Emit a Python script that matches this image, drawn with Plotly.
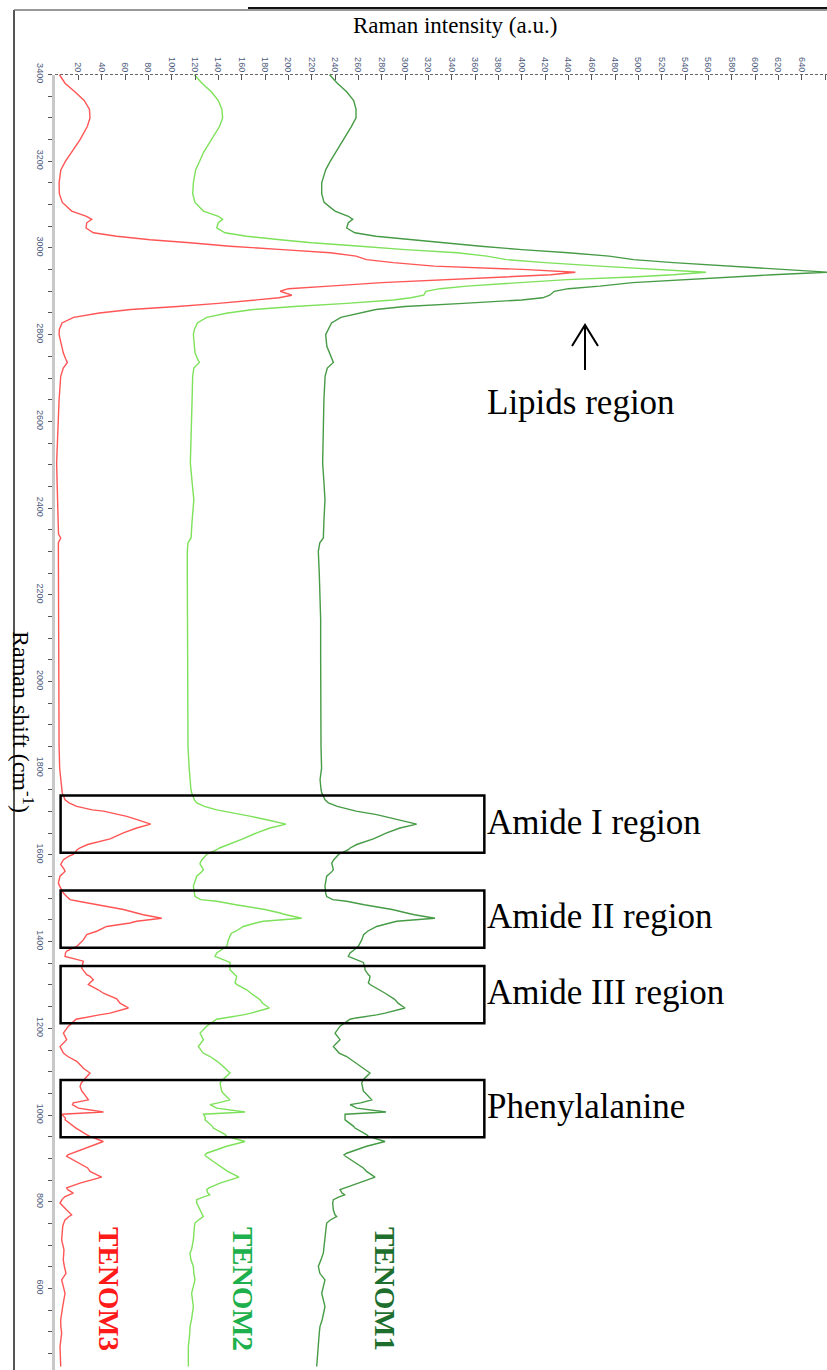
import plotly.graph_objects as go

W, H = 827, 1370

shift = [3400, 3380, 3360, 3340, 3320, 3300, 3280, 3250, 3220, 3200, 3180, 3150, 3125, 3105, 3085, 3073, 3066, 3058,
         3046, 3035, 3027, 3019, 3012, 3004, 2996, 2989, 2981, 2973, 2966, 2958, 2950, 2944, 2938, 2933, 2927, 2920,
         2912, 2906, 2900, 2891, 2885, 2880, 2872, 2865, 2858, 2850, 2840, 2827, 2812, 2800, 2773, 2758, 2745, 2736,
         2723, 2704, 2650, 2604, 2550, 2504, 2460, 2419, 2370, 2340, 2331, 2320, 2300, 2250, 2143, 2050, 1950, 1850,
         1800, 1774, 1751, 1743, 1727, 1720, 1712, 1704, 1701, 1693, 1689, 1681, 1671, 1662, 1651, 1637, 1628, 1624,
         1616, 1612, 1601, 1597, 1589, 1581, 1578, 1566, 1562, 1551, 1535, 1528, 1512, 1504, 1497, 1493, 1485, 1478,
         1474, 1466, 1462, 1454, 1447, 1443, 1435, 1424, 1420, 1416, 1404, 1389, 1378, 1374, 1366, 1355, 1352, 1339,
         1335, 1324, 1320, 1312, 1305, 1301, 1289, 1281, 1268, 1266, 1258, 1247, 1235, 1231, 1224, 1221, 1208, 1205,
         1189, 1174, 1158, 1143, 1135, 1124, 1112, 1108, 1097, 1081, 1074, 1066, 1055, 1051, 1035, 1028, 1024, 1016,
         1007, 1002, 993, 989, 974, 970, 955, 951, 939, 928, 912, 908, 905, 893, 881, 878, 870, 857, 843, 832, 828,
         820, 816, 812, 805, 797, 781, 770, 766, 758, 751, 743, 712, 689, 682, 666, 651, 635, 620, 589, 558, 528, 512,
         497, 466, 420]

tenom3 = [3.7, 8.6, 17.0, 25.0, 29.5, 30.0, 27.7, 21.5, 14.0, 9.0, 5.0, 3.5, 3.7, 6.3, 14.3, 27.0, 31.5, 27.2,
          26.6, 32.9, 52.9, 81.5, 115.7, 150.0, 195.0, 236.0, 258.0, 267.0, 290.0, 325.0, 405.0, 446.0, 425.0, 385.0,
          339.0, 280.0, 235.0, 200.0, 193.0, 203.0, 192.0, 174.0, 140.0, 105.0, 65.0, 38.0, 16.0, 6.0, 3.7, 3.5, 5.7,
          7.1, 9.0, 10.6, 7.1, 4.9, 3.5, 2.9, 2.0, 1.4, 1.8, 2.2, 2.8, 3.0, 4.9, 2.9, 2.9, 2.9, 2.9, 2.9, 3.0, 3.5,
          4.0, 4.9, 5.7, 6.2, 8.6, 12.0, 18.6, 32.0, 41.5, 55.0, 61.5, 71.0, 82.0, 70.0, 58.6, 47.2, 33.0, 28.0,
          21.5, 19.0, 15.7, 12.0, 7.2, 5.5, 4.9, 8.0, 8.6, 4.3, 2.9, 4.0, 7.2, 10.0, 12.9, 20.0, 35.7, 48.0,
          58.6, 70.0, 75.7, 91.5, 70.0, 64.3, 44.3, 35.7, 32.0, 27.2, 24.3, 18.6, 10.0, 9.0, 8.6, 24.3, 24.0, 22.9,
          24.0, 27.2, 30.0, 32.9, 30.0, 28.6, 37.0, 41.5, 52.9, 53.5, 55.7, 62.9, 47.2, 38.0, 21.5, 18.0, 12.9, 11.5,
          7.2, 10.0, 4.3, 7.2, 11.0, 18.6, 23.0, 24.3, 30.0, 24.3, 22.5, 21.5, 23.0, 24.3, 28.6, 15.7, 15.0, 20.0,
          41.5, 5.7, 9.0, 8.6, 16.0, 18.0, 27.1, 30.0, 41.4, 30.0, 14.0, 11.0, 10.0, 18.6, 27.1, 28.0, 30.0, 40.0,
          21.4, 10.0, 11.0, 15.7, 12.0, 8.6, 6.0, 4.3, 10.0, 14.3, 12.0, 8.6, 7.5, 6.6, 5.7, 7.7, 7.5, 7.1, 8.0, 9.4,
          5.7, 8.6, 6.6, 4.9, 5.0, 5.7, 4.3, 4.9]

tenom2 = [119.2, 126.0, 134.0, 140.0, 143.0, 143.7, 141.0, 134.3, 127.2, 124.0, 120.5, 118.6, 118.0, 120.0, 127.2,
          140.0, 143.7, 140.0, 138.6, 145.7, 164.3, 193.0, 220.0, 262.0, 300.0, 345.0, 370.0, 387.0, 420.0, 467.0,
          524.0, 558.0, 530.0, 495.0, 439.0, 395.0, 353.0, 330.0, 318.0, 316.0, 305.0, 290.0, 250.0, 205.0, 170.0,
          148.0, 130.0, 122.0, 119.5, 118.6, 119.5, 120.0, 122.0, 123.7, 119.0, 118.0, 117.5, 117.0, 116.5, 116.0,
          117.5, 119.0, 117.5, 117.0, 116.6, 114.0, 113.4, 113.4, 113.4, 113.4, 113.4, 114.0, 115.0, 115.7, 116.5,
          117.2, 119.5, 121.5, 128.0, 138.6, 145.0, 161.4, 168.0, 181.4, 198.0, 184.3, 172.9, 161.0, 152.0, 147.2,
          141.0, 138.6, 130.0, 128.6, 126.0, 124.3, 124.5, 127.2, 126.0, 121.5, 119.5, 118.6, 119.5, 120.0, 125.0,
          138.6, 155.0, 172.9, 180.0, 192.9, 198.0, 211.5, 178.6, 172.0, 161.4, 155.0, 151.5, 150.5, 148.6, 147.2,
          141.0, 138.6, 137.2, 148.0, 150.0, 150.0, 150.0, 154.0, 155.7, 155.0, 154.3, 156.0, 164.3, 168.0, 175.0,
          175.7, 178.0, 183.7, 168.0, 161.4, 145.0, 138.6, 131.5, 130.0, 124.3, 127.2, 122.9, 127.0, 132.9, 139.0,
          144.3, 146.0, 150.0, 143.5, 141.5, 142.0, 142.9, 144.0, 150.0, 140.0, 132.9, 138.6, 162.9, 127.2, 129.0,
          128.5, 135.0, 135.7, 146.0, 147.1, 162.9, 147.1, 130.0, 128.6, 129.5, 135.7, 142.0, 144.3, 148.0, 157.7,
          141.4, 132.0, 130.0, 131.0, 132.9, 128.0, 121.4, 121.5, 124.3, 126.0, 127.1, 123.0, 120.0, 119.5, 118.6,
          117.0, 115.7, 116.5, 118.6, 119.0, 120.0, 117.1, 118.6, 117.0, 115.7, 115.5, 114.3, 114.3]

tenom1 = [235.2, 242.0, 250.0, 256.0, 258.0, 258.0, 254.0, 247.2, 240.0, 236.0, 232.0, 228.6, 228.6, 230.6, 240.0,
          251.4, 255.2, 251.4, 250.0, 257.0, 275.0, 305.0, 335.0, 365.0, 400.0, 440.0, 475.0, 496.0, 530.0, 581.0,
          628.0, 663.0, 615.0, 581.0, 540.0, 495.0, 467.0, 440.0, 428.0, 424.0, 418.0, 400.0, 350.0, 300.0, 275.0,
          262.0, 245.0, 237.0, 234.0, 232.0, 233.0, 235.0, 237.0, 238.6, 233.4, 231.5, 230.5, 230.0, 229.5, 229.4,
          230.5, 231.4, 230.5, 230.5, 230.0, 227.0, 225.7, 226.5, 227.7, 227.7, 227.7, 228.0, 228.5, 227.2, 228.0,
          228.6, 231.5, 234.3, 242.0, 252.9, 258.0, 275.7, 282.0, 295.7, 310.0, 295.7, 284.3, 272.9, 262.0, 258.6,
          253.0, 251.4, 243.0, 241.4, 239.0, 237.2, 237.5, 238.6, 237.5, 232.9, 231.8, 231.4, 232.0, 232.9, 238.0,
          250.0, 265.0, 281.5, 289.0, 301.5, 308.0, 325.7, 292.9, 287.0, 275.7, 268.0, 265.7, 264.5, 262.9, 260.0,
          255.0, 252.9, 251.4, 262.0, 264.3, 265.7, 265.7, 268.5, 270.0, 269.5, 268.6, 270.0, 278.6, 283.0, 290.5,
          291.5, 294.0, 300.0, 283.0, 275.7, 258.0, 252.9, 246.0, 244.3, 240.0, 244.3, 238.6, 243.5, 250.0, 256.0,
          261.5, 264.0, 270.0, 264.0, 262.9, 263.5, 264.3, 266.0, 271.5, 262.0, 252.9, 258.6, 283.7, 248.6, 248.6,
          248.6, 256.0, 257.1, 267.0, 268.6, 282.9, 267.1, 250.0, 247.7, 249.0, 255.7, 262.0, 264.3, 267.0, 274.3,
          260.0, 248.0, 244.3, 246.0, 248.6, 244.0, 238.6, 238.0, 238.6, 240.0, 241.4, 236.0, 232.9, 232.5, 231.4,
          230.5, 230.0, 228.0, 225.7, 227.0, 231.4, 228.6, 231.4, 229.0, 227.1, 226.5, 225.7, 224.3]

series_names = ["TENOM3", "TENOM2", "TENOM1"]
line_colors = ["rgb(255,85,85)", "rgb(125,225,90)", "rgb(70,155,70)"]
label_colors = ["#ff1a1a", "#1db04c", "#1e6e2e"]

# region boxes: (label, shift_low, shift_high)
regions = [("Amide I region", 1605, 1737), ("Amide II region", 1386, 1518),
           ("Amide III region", 1212, 1344), ("Phenylalanine", 949, 1081)]
box_intensity = [4.8, 368]

SERIF = "Liberation Serif, Times New Roman, serif"

fig = go.Figure()
for name, vals, col in zip(series_names, [tenom3, tenom2, tenom1], line_colors):
    fig.add_trace(go.Scatter(x=vals, y=shift, mode="lines", name=name,
                             line=dict(color=col, width=1.4), showlegend=False))

def px(x):
    return x / W

def py(y):
    return 1 - y / H

top_px = 74.5
fig.update_layout(
    width=W, height=H,
    margin=dict(l=0, r=0, t=0, b=0),
    paper_bgcolor="white", plot_bgcolor="white",
    xaxis=dict(domain=[55 / W, 1], range=[0, 661.7], side="top", showgrid=False, zeroline=False,
               tickmode="array", tickvals=list(range(20, 661, 20)), tickangle=90,
               ticks="inside", ticklen=5, tickcolor="#555", tickwidth=1,
               tickfont=dict(size=9, color="#4d5b7c", family="Liberation Sans, Arial"),
               showline=False, automargin=False, anchor="y"),
    yaxis=dict(domain=[0, 1 - top_px / H], range=[412, 3400], showgrid=False, zeroline=False,
               tickmode="linear", tick0=0, dtick=200, tickangle=90,
               ticks="outside", ticklen=4, tickcolor="#555", tickwidth=1,
               minor=dict(dtick=50, ticks="outside", ticklen=4, tickcolor="#555"),
               tickfont=dict(size=9, color="#4d5b7c", family="Liberation Sans, Arial"),
               showline=True, linecolor="#c8c8c8", linewidth=3, automargin=False),
)

shapes = []
# dotted top axis line
shapes.append(dict(type="line", xref="paper", yref="paper", x0=px(55), x1=1, y0=py(top_px), y1=py(top_px),
                   line=dict(color="#666", width=1, dash="3px,2px")))
# outer frame
shapes.append(dict(type="line", xref="paper", yref="paper", x0=px(14), x1=px(14), y0=py(10), y1=0,
                   line=dict(color="#555", width=2)))
shapes.append(dict(type="line", xref="paper", yref="paper", x0=px(14), x1=1, y0=py(10), y1=py(10),
                   line=dict(color="#777", width=1.5)))
shapes.append(dict(type="line", xref="paper", yref="paper", x0=px(248), x1=1, y0=py(8), y1=py(8),
                   line=dict(color="#111", width=2)))
# region boxes
for label, lo, hi in regions:
    shapes.append(dict(type="rect", xref="x", yref="y", x0=box_intensity[0], x1=box_intensity[1], y0=lo, y1=hi,
                       line=dict(color="black", width=2.5), fillcolor="rgba(0,0,0,0)"))
# arrow for lipids region
shapes.append(dict(type="line", xref="paper", yref="paper", x0=px(585), x1=px(585), y0=py(370), y1=py(325),
                   line=dict(color="black", width=2)))
shapes.append(dict(type="path", xref="paper", yref="paper",
                   path=f"M {px(572)} {py(346)} L {px(585)} {py(325)} L {px(598)} {py(346)}",
                   line=dict(color="black", width=2)))
fig.update_layout(shapes=shapes)

ann = []
ann.append(dict(text="Raman intensity (a.u.)", xref="paper", yref="paper", x=px(455), y=py(25),
                showarrow=False, font=dict(family=SERIF, size=23, color="black"), xanchor="center", yanchor="middle"))
ann.append(dict(text="Raman shift (cm<sup>-1</sup>)", xref="paper", yref="paper", x=px(23), y=py(722),
                showarrow=False, textangle=90, font=dict(family=SERIF, size=24, color="black"),
                xanchor="center", yanchor="middle"))
ann.append(dict(text="Lipids region", xref="paper", yref="paper", x=px(485), y=py(402), showarrow=False,
                font=dict(family=SERIF, size=35, color="black"), xanchor="left", yanchor="middle"))
region_label_y = [822, 916, 992, 1106]
for (label, lo, hi), yy in zip(regions, region_label_y):
    ann.append(dict(text=label, xref="paper", yref="paper", x=px(485), y=py(yy), showarrow=False,
                    font=dict(family=SERIF, size=35, color="black"), xanchor="left", yanchor="middle"))
name_x = [109, 243, 385]
for name, col, xx in zip(series_names, label_colors, name_x):
    ann.append(dict(text=f"<b>{name}</b>", xref="paper", yref="paper", x=px(xx), y=py(1289), showarrow=False,
                    textangle=90, font=dict(family=SERIF, size=29, color=col), xanchor="center", yanchor="middle"))
fig.update_layout(annotations=ann)

fig.write_html("out.html")
